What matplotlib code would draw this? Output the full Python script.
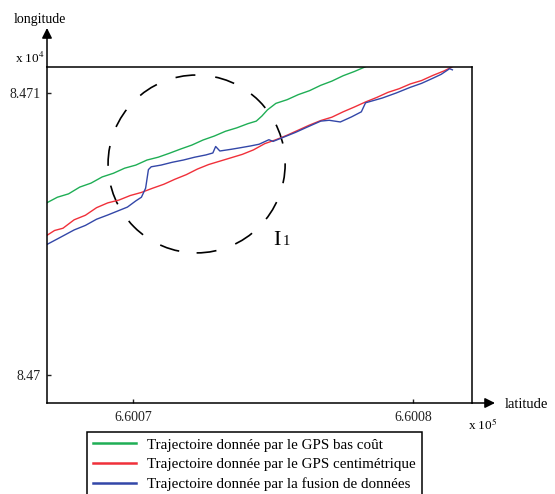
import matplotlib.pyplot as plt
from matplotlib.patches import Ellipse

plt.rcParams['font.family'] = ['Liberation Serif', 'DejaVu Serif']
plt.rcParams['mathtext.fontset'] = 'stix'

# trajectories (latitude, longitude)
lat_green = [660066.9, 660067.3, 660067.7, 660068.1, 660068.5, 660068.9, 660069.3, 660069.7,
             660070.1, 660070.5, 660070.9, 660071.3, 660071.7, 660072.1, 660072.5, 660072.9,
             660073.3, 660073.7, 660074.1, 660074.4, 660074.6, 660074.8, 660075.1, 660075.5,
             660075.9, 660076.3, 660076.7, 660077.1, 660077.5, 660077.9, 660078.3, 660078.7]
lon_green = [84706.09, 84706.30, 84706.42, 84706.66, 84706.80, 84707.02, 84707.15, 84707.33,
             84707.44, 84707.62, 84707.72, 84707.86, 84708.01, 84708.15, 84708.33, 84708.47,
             84708.64, 84708.76, 84708.91, 84709.00, 84709.18, 84709.40, 84709.63, 84709.76,
             84709.94, 84710.08, 84710.27, 84710.42, 84710.61, 84710.76, 84710.93, 84711.10]

lat_red = [660066.9, 660067.2, 660067.5, 660067.9, 660068.3, 660068.7, 660069.1, 660069.5,
           660069.9, 660070.3, 660070.7, 660071.1, 660071.5, 660071.9, 660072.3, 660072.7,
           660073.1, 660073.5, 660073.9, 660074.3, 660074.7, 660075.1, 660075.5, 660075.9,
           660076.3, 660076.7, 660077.1, 660077.5, 660077.9, 660078.3, 660078.7, 660079.1,
           660079.5, 660079.9, 660080.3, 660080.7, 660081.1, 660081.4]
lon_red = [84704.93, 84705.12, 84705.20, 84705.50, 84705.66, 84705.93, 84706.10, 84706.20,
           84706.36, 84706.47, 84706.62, 84706.76, 84706.94, 84707.10, 84707.30, 84707.46,
           84707.58, 84707.70, 84707.82, 84707.98, 84708.20, 84708.34, 84708.50, 84708.68,
           84708.86, 84709.02, 84709.14, 84709.33, 84709.50, 84709.68, 84709.84, 84710.02,
           84710.15, 84710.32, 84710.44, 84710.62, 84710.78, 84710.93]

lat_blue = [660066.9, 660067.3, 660067.9, 660068.3, 660068.7, 660069.1, 660069.5, 660069.8,
            660070.1, 660070.3, 660070.45, 660070.55, 660070.65, 660071.0, 660071.4, 660071.8,
            660072.2, 660072.6, 660072.85, 660072.95, 660073.1, 660073.5, 660073.8, 660074.2,
            660074.5, 660074.85, 660075.0, 660075.4, 660075.8, 660076.2, 660076.7, 660077.0,
            660077.4, 660077.8, 660078.15, 660078.3, 660078.9, 660079.4, 660079.9, 660080.3,
            660080.7, 660081.0, 660081.3, 660081.4]
lon_blue = [84704.61, 84704.82, 84705.14, 84705.30, 84705.52, 84705.67, 84705.83, 84705.95,
            84706.17, 84706.30, 84706.62, 84707.28, 84707.38, 84707.44, 84707.54, 84707.62,
            84707.72, 84707.80, 84707.87, 84708.10, 84707.94, 84708.00, 84708.05, 84708.12,
            84708.18, 84708.34, 84708.28, 84708.44, 84708.60, 84708.78, 84709.00, 84709.03,
            84708.97, 84709.15, 84709.33, 84709.65, 84709.82, 84710.00, 84710.20, 84710.34,
            84710.52, 84710.66, 84710.86, 84710.82]

x_ticks = [660070, 660080]
x_tick_labels = ['6.6007', '6.6008']
y_ticks = [84700, 84710]
y_tick_labels = ['8.47', '8.471']
labels = ['Trajectoire donnée par le GPS bas coût',
          'Trajectoire donnée par le GPS centimétrique',
          'Trajectoire donnée par la fusion de données']

W, H = 555, 494
fig = plt.figure(figsize=(W / 100, H / 100), dpi=100)
ax = fig.add_axes([47 / W, 1 - 403 / H, 425 / W, 336 / H])

l1, = ax.plot(lat_green, lon_green, color='#1fae55', lw=1)
l2, = ax.plot(lat_red, lon_red, color='#f0303a', lw=1)
l3, = ax.plot(lat_blue, lon_blue, color='#3347a8', lw=1)

ax.set_xlim(660066.93, 660082.1)
ax.set_ylim(84699.0, 84710.92)
ax.set_xticks(x_ticks)
ax.set_xticklabels(x_tick_labels)
ax.set_yticks(y_ticks)
ax.set_yticklabels(y_tick_labels)
ax.tick_params(direction='in', length=3, width=1, labelsize=10, colors='#222222')
ax.tick_params(axis='y', pad=4.5)
ax.tick_params(axis='x', pad=6)
for s in ax.spines.values():
    s.set_linewidth(1.1)

# dashed circle around zone I1
ax.add_patch(Ellipse((660072.27, 84707.48), 6.32, 6.31, fill=False, ec='k',
                     lw=1.2, ls=(0, (12, 12))))
ax.text(660075.0, 84704.61, 'I', fontsize=16, ha='left', va='baseline')
ax.text(660075.36, 84704.61, '1', fontsize=10.5, ha='left', va='baseline')

# axis arrows
arrow = dict(arrowstyle='-|>', color='k', lw=1.1, mutation_scale=15, shrinkA=0, shrinkB=0)
ax.annotate('', xy=(0, 375 / 336), xytext=(0, 1), xycoords='axes fraction',
            arrowprops=arrow, annotation_clip=False)
ax.annotate('', xy=(448 / 425, 0), xytext=(1, 0), xycoords='axes fraction',
            arrowprops=arrow, annotation_clip=False)

fig.text(40 / W, 1 - 19 / H, 'longitude', fontsize=10, ha='center', va='center')
fig.text(505 / W, 1 - 404 / H, 'latitude', fontsize=10.5, ha='left', va='center')
fig.text(15 / W, 1 - 58 / H, 'x 10$^4$', fontsize=9.5, ha='left', va='center')
fig.text(468 / W, 1 - 425 / H, 'x 10$^5$', fontsize=9.5, ha='left', va='center')

leg = fig.legend([l1, l2, l3], labels, loc='upper left', bbox_to_anchor=(87 / W, 1 - 432 / H),
                 fontsize=10.8, frameon=True, fancybox=False, edgecolor='k', framealpha=1,
                 borderaxespad=0, handlelength=2.87, handletextpad=0.73, labelspacing=0.4,
                 borderpad=0.4)
leg.get_frame().set_linewidth(1.1)
for h in leg.get_lines():
    h.set_linewidth(1.8)

fig.savefig('out.png', dpi=100)
